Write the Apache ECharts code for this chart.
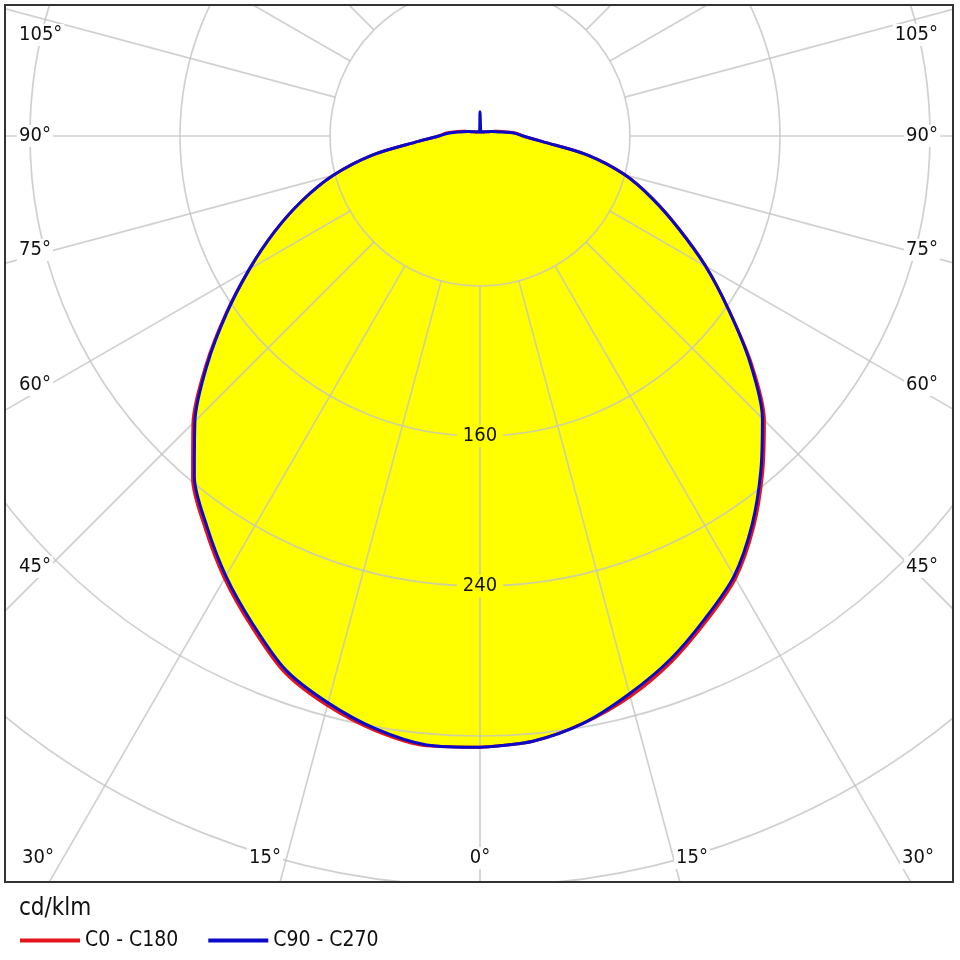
<!DOCTYPE html>
<html>
<head>
<meta charset="utf-8">
<script src="https://cdn.jsdelivr.net/npm/echarts@6/dist/echarts.min.js"></script>
<style>
html,body{margin:0;padding:0;background:#ffffff;}
#chart{width:960px;height:960px;}
</style>
</head>
<body>
<div id="chart"></div>
<script>
// gamma angles (degrees from nadir) for each half-plane
const curveAngles = [0,5,10,15,20,25,30,35,40,45,50,55,60,65,70,75,80,85,90,95,100,105,110,115,120,125,130,135,140,145,150,155,160,165,170,175,180];

// C0 - C180 plane (cd/klm)
const c0Values   = [326,324,318,309.5,298.5,285.5,272.5,254.5,234.5,214.5,189,162,139,117,98,80,58,33,23,19,13,10,7,5.5,4.5,4,3.5,3,3,2.8,2.5,2.4,2.3,2.2,2.2,2.2,2.2];
const c180Values = [326,326.5,322,314.5,304.5,288.5,272.5,255.5,238.5,216.5,191,165.5,142,121,101,81,58,33,22,18,13,10,7,5.5,4.5,4,3.5,3,3,2.8,2.5,2.4,2.3,2.2,2.2,2.2,2.2];

// C90 - C270 plane (cd/klm)
const c90Values  = [326,324,318,308,297,284,271,253,233,213,188,162,139,117,98,80,58,33,23,18,12,9,7,5.5,4.5,4,3.5,3,3,2.8,2.5,2.4,2.3,2.2,2.2,2.2,13];
const c270Values = [326,326,321,313,303,287,271,254,237,215,190,165,142,121,101,81,58,33,22,17,12,9,7,5.5,4.5,4,3.5,3,3,2.8,2.5,2.4,2.3,2.2,2.2,2.2,13];

const radiusLabelValues = [160, 240];
const sideAngleLabels = ['105°','90°','75°','60°','45°'];
const bottomAngleLabels = ['30°','15°','0°','15°','30°'];
const legendNames = ['C0 - C180','C90 - C270'];
const unitLabel = 'cd/klm';

// layout (pixels)
const sideLabelY = [35, 136, 250, 385, 567];
const bottomLabelX = [38, 265, 480, 692, 918];
const frame = {x:5, y:5, w:948, h:877};

function closedCurve(right, left) {
  const pts = [];
  for (let i = 0; i < curveAngles.length; i++) pts.push([right[i], curveAngles[i]]);
  for (let i = curveAngles.length - 1; i >= 0; i--) pts.push([left[i], 360 - curveAngles[i]]);
  return pts;
}

const redPts = closedCurve(c0Values, c180Values);
const bluePts = closedCurve(c90Values, c270Values);

const FONT = '"DejaVu Sans Condensed", "DejaVu Sans", Verdana, sans-serif';
const gridColor = 'rgba(196,196,196,0.8)';
const TEXT = '#111';
const RED = '#e3141c';
const BLUE = '#0a0ac8';

function txt(text, x, y, align, size) {
  return {
    type: 'text', x: x, y: y, z: 22, silent: true,
    style: {
      text: text, font: (size || 20) + 'px ' + FONT, fill: TEXT,
      align: align, textAlign: align, verticalAlign: 'middle', textVerticalAlign: 'middle',
      backgroundColor: '#ffffff', textBackgroundColor: '#ffffff',
      padding: [1, 2], textPadding: [1, 2]
    }
  };
}

const elements = [];
// white covers outside the frame
elements.push({type:'rect', z:20, silent:true, shape:{x:0,y:0,width:960,height:frame.y}, style:{fill:'#fff'}});
elements.push({type:'rect', z:20, silent:true, shape:{x:0,y:frame.y+frame.h,width:960,height:960-frame.y-frame.h}, style:{fill:'#fff'}});
elements.push({type:'rect', z:20, silent:true, shape:{x:0,y:0,width:frame.x,height:960}, style:{fill:'#fff'}});
elements.push({type:'rect', z:20, silent:true, shape:{x:frame.x+frame.w,y:0,width:960-frame.x-frame.w,height:960}, style:{fill:'#fff'}});
// frame
elements.push({type:'rect', z:21, silent:true, shape:{x:frame.x,y:frame.y,width:frame.w,height:frame.h}, style:{fill:'none', stroke:'#333', lineWidth:2}});
// angle labels
sideAngleLabels.forEach((t, i) => {
  elements.push(txt(t, 17, sideLabelY[i], 'left'));
  elements.push(txt(t, 940, sideLabelY[i], 'right'));
});
bottomAngleLabels.forEach((t, i) => {
  elements.push(txt(t, bottomLabelX[i], 858, 'center'));
});
// unit label
const unit = txt(unitLabel, 17, 909, 'left', 24);
unit.z = 30;
elements.push(unit);

const hidden = {axisLine: {show: false}, axisTick: {show: false}, axisLabel: {show: false}, splitLine: {show: false}};

const chart = echarts.init(document.getElementById('chart'), null, {renderer: 'canvas'});
chart.setOption({
  animation: false,
  backgroundColor: '#ffffff',
  textStyle: {fontFamily: FONT},
  polar: [
    {center: [480, 136], radius: [0, 900]},      // data polar (0..480 cd/klm)
    {center: [480, 136], radius: [150, 900]}     // grid polar (80..480 cd/klm, same scale)
  ],
  angleAxis: [
    Object.assign({polarIndex: 0, type: 'value', min: 0, max: 360, interval: 15, startAngle: 270, clockwise: false}, hidden),
    {
      polarIndex: 1, type: 'value', min: 0, max: 360, interval: 15,
      startAngle: 270, clockwise: false, z: 3,
      axisLine: {show: false}, axisTick: {show: false}, axisLabel: {show: false},
      splitLine: {show: true, lineStyle: {color: gridColor, width: 1.7}}
    }
  ],
  radiusAxis: [
    Object.assign({polarIndex: 0, type: 'value', min: 0, max: 480, interval: 80}, hidden),
    {
      polarIndex: 1, type: 'value', min: 80, max: 480, interval: 80, z: 4,
      axisLine: {show: false}, axisTick: {show: false},
      axisLabel: {
        customValues: radiusLabelValues,
        fontSize: 20, color: TEXT, fontFamily: FONT,
        backgroundColor: '#ffff00', padding: [1, 6],
        align: 'center', verticalAlign: 'middle', margin: 0
      },
      splitLine: {show: true, lineStyle: {color: gridColor, width: 1.7}}
    }
  ],
  legend: {
    data: legendNames, left: 15, top: 925, z: 30,
    icon: 'rect', itemWidth: 60, itemHeight: 4, itemGap: 30,
    textStyle: {fontSize: 21, color: TEXT, fontFamily: FONT}
  },
  graphic: {elements: elements},
  series: [
    {type: 'line', name: 'fillA', coordinateSystem: 'polar', polarIndex: 0, data: redPts, symbol: 'none', clip: false, silent: true, z: 1, smooth: 0.3,
     lineStyle: {width: 0, opacity: 0}, areaStyle: {color: '#ffff00', opacity: 1, origin: 0}},
    {type: 'line', name: 'fillB', coordinateSystem: 'polar', polarIndex: 0, data: bluePts, symbol: 'none', clip: false, silent: true, z: 1, smooth: 0.3,
     lineStyle: {width: 0, opacity: 0}, areaStyle: {color: '#ffff00', opacity: 1, origin: 0}},
    {type: 'line', name: legendNames[0], coordinateSystem: 'polar', polarIndex: 0, data: redPts, symbol: 'none', clip: false, z: 5, smooth: 0.3,
     color: RED, lineStyle: {color: RED, width: 3}, itemStyle: {color: RED}},
    {type: 'line', name: legendNames[1], coordinateSystem: 'polar', polarIndex: 0, data: bluePts, symbol: 'none', clip: false, z: 6, smooth: 0.3,
     color: BLUE, lineStyle: {color: BLUE, width: 3}, itemStyle: {color: BLUE}}
  ]
});
</script>
</body>
</html>
